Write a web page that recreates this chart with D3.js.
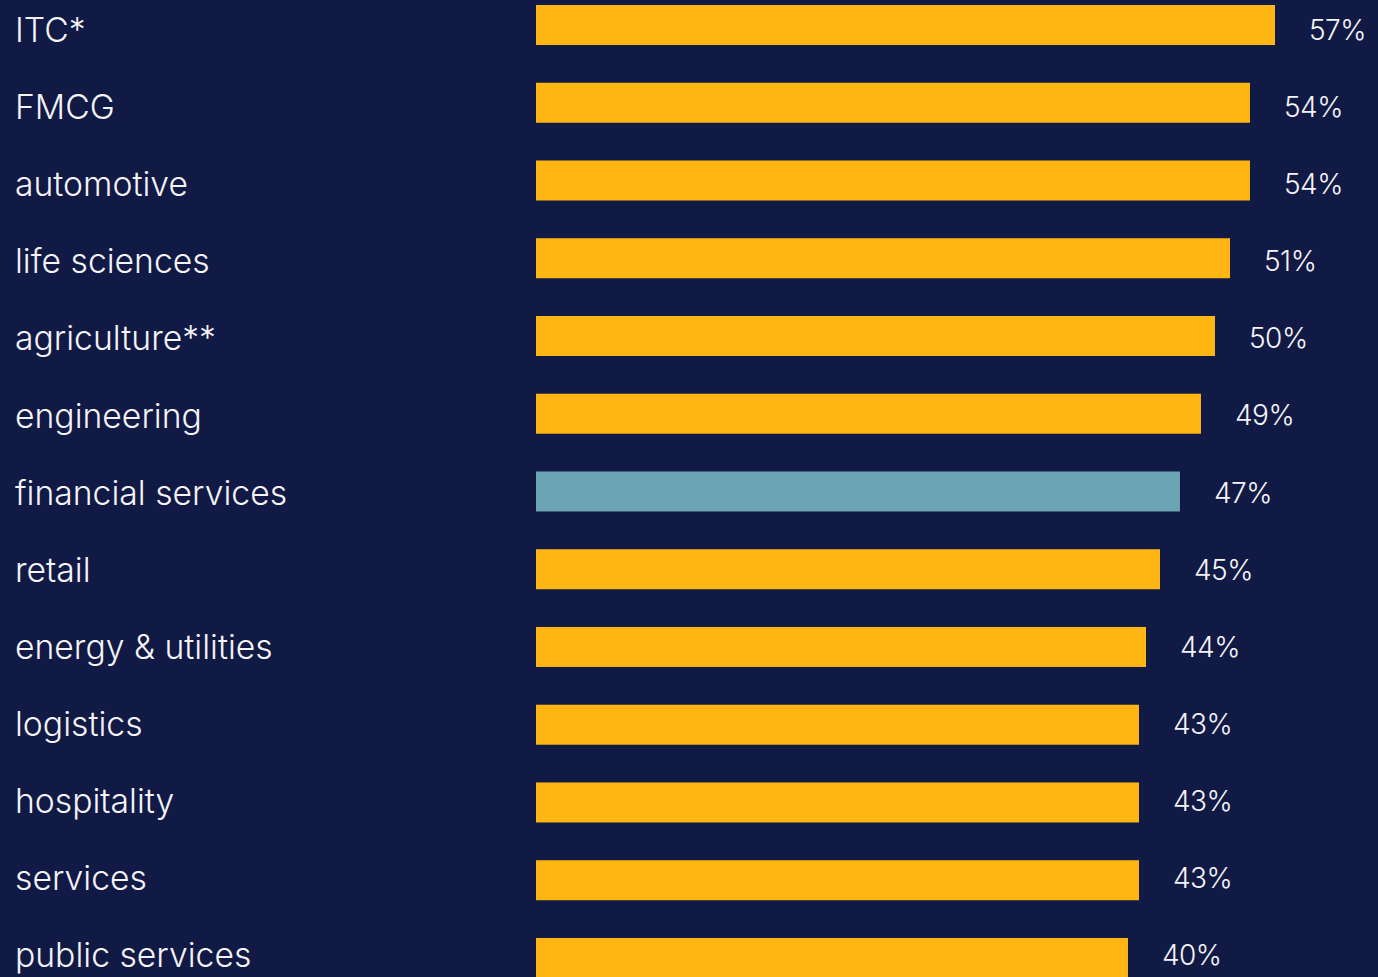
<!DOCTYPE html>
<html>
<head>
<meta charset="utf-8">
<script src="https://cdn.jsdelivr.net/npm/d3@7"></script>
<style>
  html, body { margin: 0; padding: 0; background: #111a44; }
  svg { display: block; }
</style>
</head>
<body>
<svg id="chart" width="1378" height="977"></svg>
<script>
// Data
const categories = ["ITC*", "FMCG", "automotive", "life sciences", "agriculture**", "engineering",
  "financial services", "retail", "energy & utilities", "logistics", "hospitality", "services", "public services"];
const percentLabels = [57, 54, 54, 51, 50, 49, 47, 45, 44, 43, 43, 43, 40];
// bar lengths as drawn in the original (in the same % units)
const barValues = [57, 55.07, 55.07, 53.53, 52.37, 51.29, 49.67, 48.13, 47.05, 46.51, 46.51, 46.51, 45.66];
const highlighted = ["financial services"];

const W = 1378, H = 977;
const svg = d3.select("#chart");
svg.append("rect").attr("width", W).attr("height", H).attr("fill", "#111a44");

const x = d3.scaleLinear().domain([0, 57]).range([536, 1275]);
const y = d3.scaleBand().domain(categories).range([5, 978]).paddingInner(0.485).paddingOuter(0);
const yText = d3.scalePoint().domain(categories).range([30, 955]);

const rows = categories.map((c, i) => ({ c, v: barValues[i], p: percentLabels[i] }));

svg.selectAll("rect.bar").data(rows).join("rect")
  .attr("class", "bar")
  .attr("x", x(0))
  .attr("y", d => y(d.c))
  .attr("width", d => x(d.v) - x(0))
  .attr("height", 40)
  .attr("fill", d => highlighted.includes(d.c) ? "#6ba4b2" : "#ffb612");

const font = "Inter, 'Noto Sans', sans-serif";

svg.selectAll("text.cat").data(rows).join("text")
  .attr("class", "cat")
  .attr("x", 15)
  .attr("y", d => yText(d.c))
  .attr("dy", "0.36em")
  .attr("fill", "#f4f4f8")
  .attr("font-family", font)
  .attr("font-size", 33.7)
  .attr("font-weight", 300)
  .text(d => d.c);

svg.selectAll("text.val").data(rows).join("text")
  .attr("class", "val")
  .attr("x", d => x(d.v) + 34)
  .attr("y", d => yText(d.c))
  .attr("dy", "0.36em")
  .attr("fill", "#f4f4f8")
  .attr("font-family", font)
  .attr("font-size", 28)
  .attr("font-weight", 300)
  .attr("letter-spacing", -0.5)
  .text(d => d.p + "%");
</script>
</body>
</html>
